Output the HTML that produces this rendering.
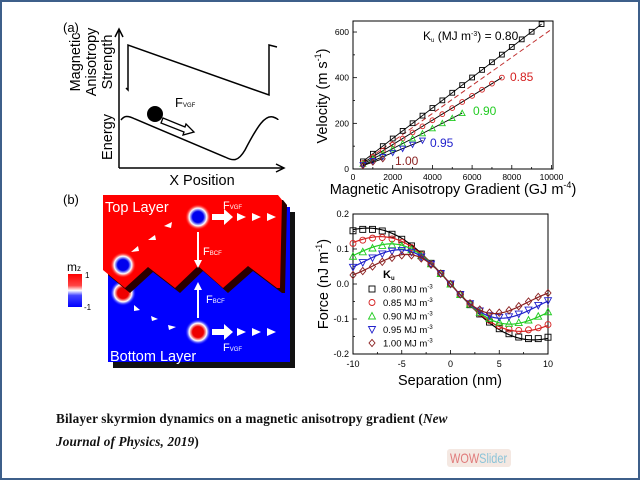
<!DOCTYPE html>
<html><head><meta charset="utf-8"><style>
html,body{margin:0;padding:0;background:#fff;}
#w{position:relative;width:636px;height:476px;border:2px solid #3d5f8a;overflow:hidden;background:#fff;}
svg{position:absolute;left:-2px;top:-2px;}
.cap{position:absolute;left:54px;top:405px;font:bold 13.2px "Liberation Serif",serif;color:#111;line-height:23px;letter-spacing:0.15px;}
.wow{position:absolute;left:445px;top:447px;width:64px;height:18px;background:#f4e8e2;border-radius:3px;font:14px "Liberation Sans",sans-serif;line-height:18px;text-align:center;overflow:hidden;}
.wow span.in{display:inline-block;transform:scaleX(0.78);transform-origin:center;white-space:nowrap;margin-left:-12px;margin-right:-12px;}
</style></head><body><div id="w">
<svg id="s" width="640" height="480" viewBox="0 0 640 480" font-family="Liberation Sans, sans-serif">
<defs>
<radialGradient id="sb"><stop offset="0.42" stop-color="#0000ee"/><stop offset="0.68" stop-color="#fff"/><stop offset="1" stop-color="#ff0000" stop-opacity="0"/></radialGradient>
<radialGradient id="sr"><stop offset="0.42" stop-color="#ee0000"/><stop offset="0.68" stop-color="#fff"/><stop offset="1" stop-color="#0000ff" stop-opacity="0"/></radialGradient>
<linearGradient id="cb" x1="0" y1="0" x2="0" y2="1"><stop offset="0" stop-color="#f00"/><stop offset="0.35" stop-color="#f44"/><stop offset="0.5" stop-color="#fff"/><stop offset="0.65" stop-color="#44f"/><stop offset="1" stop-color="#00f"/></linearGradient>
</defs>
<text x="63" y="32" font-size="13">(a)</text>
<path d="M119,168V30" stroke="#000" stroke-width="1.5" fill="none"/>
<path d="M115,37L119,29L123,37" stroke="#000" stroke-width="1.5" fill="none"/>
<path d="M119,168H283" stroke="#000" stroke-width="1.5"/>
<path d="M276,164L284,168L276,172" stroke="#000" stroke-width="1.5" fill="none"/>
<path d="M126,88L128,90V45L269,95V45L277,47" stroke="#000" stroke-width="1.5" fill="none"/>
<path d="M121,120C124,116 127,115 135,119L225,157C233,161 238,162 245,150C258,125 265,115 273,117C276,118 278,119 278,120" stroke="#000" stroke-width="1.5" fill="none"/>
<circle cx="155" cy="114" r="8" fill="#000"/>
<path d="M163,118L185,127L186,124L194,132L183,135L184,132L161,123z" fill="#fff" stroke="#000" stroke-width="1.3"/>
<text x="175" y="107" font-size="13">F<tspan font-size="6">VGF</tspan></text>
<g font-size="14.5" text-anchor="middle">
<text transform="translate(80,62) rotate(-90)">Magnetic</text>
<text transform="translate(96,62) rotate(-90)">Anisotropy</text>
<text transform="translate(112,62) rotate(-90)">Strength</text>
<text transform="translate(112,137) rotate(-90)">Energy</text>
<text x="202" y="185">X Position</text>
</g>
<text x="63" y="204" font-size="13">(b)</text>
<rect x="113" y="212" width="182" height="156" fill="#111"/>
<rect x="108" y="207" width="182" height="155" fill="#0000ff"/>
<circle cx="123" cy="293" r="13" fill="url(#sr)"/>
<polygon transform="translate(5,5)" points="103,195 278,195 282,200 280,288 277,288 248,266 223,288 198,266 175,288 148,267 125,288 103,270" fill="#2a0000"/>
<polygon points="103,195 278,195 282,200 280,288 277,288 248,266 223,288 198,266 175,288 148,267 125,288 103,270" fill="#ff0000"/>
<circle cx="198" cy="217" r="13" fill="url(#sb)"/>
<circle cx="123" cy="265" r="13" fill="url(#sb)"/>
<circle cx="198" cy="332" r="13" fill="url(#sr)"/>
<g fill="#fff">
<path d="M197,232h2v28h3l-4,8l-4,-8h3z"/>
<path d="M197,318h2v-28h3l-4,-8l-4,8h3z"/>
<path d="M212,214h12v-5l9,8l-9,8v-5h-12z"/>
<path d="M212,329h12v-5l9,8l-9,8v-5h-12z"/>
<path d="M237,213l9,4l-9,4z M252,213l9,4l-9,4z M267,213l9,4l-9,4z"/>
<path d="M237,328l9,4l-9,4z M252,328l9,4l-9,4z M267,328l9,4l-9,4z"/>
<path d="M131,252l7,-6l1,5z M148,240l7,-5l1,5z M164,226l8,-4l-1,6z"/>
<path d="M134,305l6,5l-6,1z M151,316l7,3l-6,2z M168,325l8,2l-7,3z"/>
<text x="105" y="212" font-size="14.5">Top Layer</text>
<text x="110" y="361" font-size="14.5">Bottom Layer</text>
<text x="223" y="209" font-size="11">F<tspan font-size="6">VGF</tspan></text>
<text x="223" y="351" font-size="11">F<tspan font-size="6">VGF</tspan></text>
<text x="203" y="255" font-size="11">F<tspan font-size="6">BCF</tspan></text>
<text x="206" y="303" font-size="11">F<tspan font-size="6">BCF</tspan></text>
</g>
<rect x="68" y="274" width="14" height="33" fill="url(#cb)"/>
<text x="67" y="271" font-size="12">m<tspan font-size="8">z</tspan></text>
<text x="85" y="278" font-size="8">1</text>
<text x="84" y="310" font-size="8">-1</text>
<g id="plots"></g>
</svg>
<div class="cap">Bilayer skyrmion dynamics on a magnetic anisotropy gradient (<i>New<br>Journal of Physics, 2019</i>)</div>
<div class="wow"><span class="in"><span style="color:#e07a7a">WOW</span><span style="color:#8cc4d8">Slider</span></span></div>
</div>
<script>
var g=document.getElementById('plots'),h='';
function mk(t,x,y,c,s){s=s||2.6;
 if(t==0)return '<rect x="'+(x-s)+'" y="'+(y-s)+'" width="'+2*s+'" height="'+2*s+'" fill="none" stroke="'+c+'" stroke-width="0.9"/>';
 if(t==1)return '<circle cx="'+x+'" cy="'+y+'" r="'+s+'" fill="none" stroke="'+c+'" stroke-width="0.9"/>';
 if(t==2)return '<path d="M'+x+','+(y-s-0.5)+'L'+(x+s+0.5)+','+(y+s)+'L'+(x-s-0.5)+','+(y+s)+'z" fill="none" stroke="'+c+'" stroke-width="0.9"/>';
 if(t==3)return '<path d="M'+x+','+(y+s+0.5)+'L'+(x+s+0.5)+','+(y-s)+'L'+(x-s-0.5)+','+(y-s)+'z" fill="none" stroke="'+c+'" stroke-width="0.9"/>';
 return '<path d="M'+x+','+(y-s-0.6)+'L'+(x+s)+','+y+'L'+x+','+(y+s+0.6)+'L'+(x-s)+','+y+'z" fill="none" stroke="'+c+'" stroke-width="0.9"/>';}
var C=['#000','#d42020','#22cc22','#2222cc','#8a2020'];
function vx(x){return 353+x*0.01985}function vy(v){return 169-v*0.2283}
h+='<rect x="353" y="21" width="200" height="148" fill="none" stroke="#000" stroke-width="1"/>';
for(var i=0;i<=10000;i+=1000){var X=vx(i);h+='<line x1="'+X+'" y1="169" x2="'+X+'" y2="'+(i%2000?167:165)+'" stroke="#000" stroke-width="0.8"/>';
 if(i%2000==0)h+='<text x="'+X+'" y="180" font-size="8.5" text-anchor="middle">'+i+'</text>';}
for(var v=0;v<=600;v+=100){var Y=vy(v);h+='<line x1="353" y1="'+Y+'" x2="'+(v%200?355:357)+'" y2="'+Y+'" stroke="#000" stroke-width="0.8"/>';
 if(v%200==0)h+='<text x="349" y="'+(Y+3)+'" font-size="8.5" text-anchor="end">'+v+'</text>';}
h+='<line x1="'+vx(500)+'" y1="'+vy(28)+'" x2="'+vx(10000)+'" y2="'+vy(612)+'" stroke="#c03030" stroke-width="1" stroke-dasharray="5,3"/>';
var S=[[0.0668,9500],[0.0534,7500],[0.0445,5500],[0.0357,3500],[0.030,1500]];
for(var k=0;k<5;k++){var m=S[k][0],e=S[k][1];
 h+='<line x1="'+vx(500)+'" y1="'+vy(500*m)+'" x2="'+vx(e)+'" y2="'+vy(e*m)+'" stroke="#000" stroke-width="0.9"/>';
 for(var x=500;x<=e;x+=500)h+=mk(k,vx(x),vy(x*m),C[k],2.4);}
h+='<text x="423" y="40" font-size="12">K<tspan font-size="6" dy="2">u</tspan><tspan dy="-2"> (MJ m</tspan><tspan font-size="7" dy="-4">-3</tspan><tspan dy="4">) = 0.80</tspan></text>';
h+='<text x="510" y="81" font-size="12" fill="'+C[1]+'">0.85</text>';
h+='<text x="473" y="115" font-size="12" fill="'+C[2]+'">0.90</text>';
h+='<text x="430" y="147" font-size="12" fill="'+C[3]+'">0.95</text>';
h+='<text x="395" y="165" font-size="12" fill="'+C[4]+'">1.00</text>';
h+='<text x="453" y="194" font-size="14.5" text-anchor="middle">Magnetic Anisotropy Gradient (GJ m<tspan font-size="9" dy="-6">-4</tspan><tspan dy="6">)</tspan></text>';
h+='<text transform="translate(327,96) rotate(-90)" font-size="14.5" text-anchor="middle">Velocity (m s<tspan font-size="9" dy="-6">-1</tspan><tspan dy="6">)</tspan></text>';
function fx(s){return 450.5+s*9.75}function fy(f){return 284-f*350}
h+='<rect x="353" y="214" width="195" height="140" fill="none" stroke="#000" stroke-width="1"/>';
for(var s=-10;s<=10;s+=2.5){var X=fx(s);h+='<line x1="'+X+'" y1="354" x2="'+X+'" y2="'+(s%5?352:350)+'" stroke="#000" stroke-width="0.8"/>';
 if(s%5==0)h+='<text x="'+X+'" y="367" font-size="9" text-anchor="middle">'+s+'</text>';}
for(var f=-0.2;f<=0.201;f+=0.05){var Y=fy(f);var mj=Math.abs(Math.round(f*100))%10==0;h+='<line x1="353" y1="'+Y+'" x2="'+(mj?357:355)+'" y2="'+Y+'" stroke="#000" stroke-width="0.8"/>';
 if(mj)h+='<text x="349" y="'+(Y+3)+'" font-size="9" text-anchor="end">'+f.toFixed(1).replace('-0.0','0.0')+'</text>';}
var W=[8.5,7.2,6.1,5.2,4.5];
function F(s,w){return -0.031*s*Math.exp(-0.5*(s/w)*(s/w))}
for(var k=0;k<5;k++){var d='';for(var s=-10;s<=10.01;s+=0.25)d+=(s==-10?'M':'L')+fx(s).toFixed(1)+','+fy(F(s,W[k])).toFixed(1);
 h+='<path d="'+d+'" fill="none" stroke="'+C[k]+'" stroke-width="1.2"/>';
 for(var s=-10;s<=10;s++)h+=mk(k,fx(s),fy(F(s,W[k])*0.98),C[k],3);}
h+='<text x="383" y="278" font-size="11" font-weight="bold">K<tspan font-size="6" dy="2">u</tspan></text>';
var L=['0.80','0.85','0.90','0.95','1.00'];
for(var k=0;k<5;k++){var Y=289+k*13.5;h+=mk(k,372,Y,C[k],3)+'<text x="383" y="'+(Y+3.5)+'" font-size="9.5">'+L[k]+' MJ m<tspan font-size="6" dy="-4">-3</tspan></text>';}
h+='<text x="450" y="385" font-size="14.5" text-anchor="middle">Separation (nm)</text>';
h+='<text transform="translate(328,284) rotate(-90)" font-size="14.5" text-anchor="middle">Force (nJ m<tspan font-size="9" dy="-6">-1</tspan><tspan dy="6">)</tspan></text>';
g.innerHTML=h;
</script>
</body></html>
